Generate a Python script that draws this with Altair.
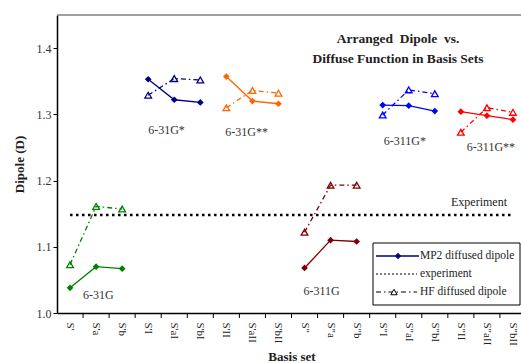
import altair as alt
import pandas as pd

# Basis-set categories along the x axis (three diffuse variants per basis set)
categories = ["S'", "S'a", "S'b", "S'I", "S'aI", "S'bI", "S'II", "S'aII", "S'bII",
              'S"', 'S"a', 'S"b', 'S"I', 'S"aI', 'S"bI', 'S"II', 'S"aII', 'S"bII']
groups = ["6-31G", "6-31G*", "6-31G**", "6-311G", "6-311G*", "6-311G**"]
group_colors = ["#008000", "#000080", "#FF6600", "#800000", "#0000FF", "#FF0000"]

mp2_dipole = [1.038, 1.070, 1.067, 1.353, 1.322, 1.318, 1.357, 1.320, 1.316,
              1.068, 1.110, 1.108, 1.314, 1.313, 1.305, 1.304, 1.298, 1.292]
hf_dipole = [1.073, 1.161, 1.157, 1.329, 1.354, 1.352, 1.310, 1.336, 1.332,
             1.122, 1.193, 1.193, 1.299, 1.337, 1.331, 1.273, 1.310, 1.303]
experiment_dipole = 1.148

# where each basis-set name is written (anchor category, dipole value)
label_anchor = ["S'", "S'I", "S'II", 'S"', 'S"I', 'S"II']
label_value = [1.027, 1.276, 1.273, 1.033, 1.260, 1.251]
label_shift = [13, 0, -1, -1, 1, 6]

title_lines = ["Arranged\u00a0\u00a0Dipole\u00a0\u00a0vs.", "Diffuse Function in Basis Sets"]
y_ticks = [1.0, 1.1, 1.2, 1.3, 1.4]

W, H = 464, 298
BAND_RANGE = 469
SERIF = "Liberation Serif, Times New Roman, serif"

rows = []
for i, cat in enumerate(categories):
    g = groups[i // 3]
    rows.append({"cat": cat, "group": g, "method": "MP2", "value": mp2_dipole[i]})
    rows.append({"cat": cat, "group": g, "method": "HF", "value": hf_dipole[i]})
df = pd.DataFrame(rows)
mp2 = df[df.method == "MP2"]
hf = df[df.method == "HF"]

x_scale = alt.Scale(type="band", domain=categories, range=[0, BAND_RANGE],
                    paddingInner=0, paddingOuter=0)
y_scale = alt.Scale(domain=[1.0, 1.45], nice=False, zero=False)
color = alt.Color("group:N", scale=alt.Scale(domain=groups, range=group_colors), legend=None)

x_axis = alt.Axis(title="Basis set", ticks=False, labelAngle=90, labelFont=SERIF,
                  labelFontSize=11, labelColor="#222", labelPadding=9,
                  domainColor="black", domainWidth=1.5, titleFont=SERIF,
                  titleFontSize=13, titleFontWeight="bold", titlePadding=5,
                  titleColor="#222", grid=False)
y_axis = alt.Axis(title="Dipole (D)", values=y_ticks, format=".1f", grid=False,
                  tickSize=4, tickColor="black", labelFont=SERIF, labelFontSize=12,
                  labelColor="#333", domainColor="black", domainWidth=1.5,
                  titleFont=SERIF, titleFontSize=13, titleFontWeight="bold",
                  titlePadding=10, titleColor="#222")

X = alt.X("cat:N", scale=x_scale, sort=categories, axis=x_axis)
Y = alt.Y("value:Q", scale=y_scale, axis=y_axis)

mp2_line = alt.Chart(mp2).mark_line(strokeWidth=1.3).encode(
    x=X, y=Y, color=color, detail="group:N")
mp2_pts = alt.Chart(mp2).mark_point(shape="diamond", filled=True, size=45, opacity=1).encode(
    x=X, y=Y, color=color)
hf_line = alt.Chart(hf).mark_line(strokeWidth=1.3, strokeDash=[5, 3, 1.5, 3]).encode(
    x=X, y=Y, color=color, detail="group:N")
hf_pts = alt.Chart(hf).mark_point(shape="triangle-up", filled=False, size=45,
                                  strokeWidth=1.3, opacity=1).encode(x=X, y=Y, color=color)

exp_df = pd.DataFrame({"cat": [categories[0], categories[-1]],
                       "value": [experiment_dipole, experiment_dipole]})
exp_line = alt.Chart(exp_df).mark_line(color="black", strokeWidth=2.6,
                                       strokeDash=[2.5, 3.5]).encode(x=X, y=Y)
exp_text = alt.Chart(exp_df.tail(1)).mark_text(
    text="Experiment", align="right", dx=-6, dy=-13, font=SERIF, fontSize=12,
    color="#222").encode(x=X, y=Y)

lab_df = pd.DataFrame({"cat": label_anchor, "value": label_value, "group": groups})
group_labels = alt.layer(*[
    alt.Chart(lab_df.iloc[[k]]).mark_text(
        align="left", dx=label_shift[k], font=SERIF, fontSize=12, color="#333").encode(
        x=X, y=Y, text="group:N")
    for k in range(len(groups))
])

# x-axis ticks sit on the band boundaries
tick_df = pd.DataFrame({"cat": categories[1:]})
x_ticks = alt.Chart(tick_df).mark_rule(color="black", strokeWidth=1).encode(
    x=alt.X("cat:N", scale=x_scale, sort=categories, axis=x_axis, bandPosition=0),
    y=alt.value(H), y2=alt.value(H + 5))

one = tick_df.head(1)
top_frame = alt.Chart(one).mark_rule(color="#808080", strokeWidth=1.6).encode(
    x=alt.value(0), x2=alt.value(BAND_RANGE), y=alt.value(0))

title = alt.layer(*[
    alt.Chart(one).mark_text(text=t, font=SERIF, fontSize=13.5,
                             fontWeight="bold", color="#222").encode(
        x=alt.value(341), y=alt.value(24 + 20 * k))
    for k, t in enumerate(title_lines)
])

# legend box
lx, ly = 316, 228
legend = alt.layer(
    alt.Chart(one).mark_rect(fill="white", stroke="black", strokeWidth=1).encode(
        x=alt.value(lx), x2=alt.value(lx + 147), y=alt.value(ly), y2=alt.value(ly + 62)),
    alt.Chart(one).mark_rule(color="#000080", strokeWidth=1.3).encode(
        x=alt.value(lx + 3), x2=alt.value(lx + 46), y=alt.value(ly + 13)),
    alt.Chart(one).mark_point(shape="diamond", filled=True, size=40, opacity=1,
                              color="#000080").encode(
        x=alt.value(lx + 25), y=alt.value(ly + 13)),
    alt.Chart(one).mark_rule(color="black", strokeWidth=1, strokeDash=[2, 2]).encode(
        x=alt.value(lx + 3), x2=alt.value(lx + 44), y=alt.value(ly + 31)),
    alt.Chart(one).mark_rule(color="black", strokeWidth=1, strokeDash=[5, 3, 1.5, 3]).encode(
        x=alt.value(lx + 3), x2=alt.value(lx + 44), y=alt.value(ly + 49)),
    alt.Chart(one).mark_point(shape="triangle-up", filled=False, size=40, opacity=1,
                              color="black", fill="white", strokeWidth=1).encode(
        x=alt.value(lx + 21), y=alt.value(ly + 49)),
    *[alt.Chart(one).mark_text(text=t, align="left", font=SERIF, fontSize=11.5,
                               color="#222").encode(
        x=alt.value(lx + 47), y=alt.value(ly + 13 + 18 * k))
      for k, t in enumerate(["MP2 diffused dipole", "experiment", "HF diffused dipole"])]
)

chart = alt.layer(
    mp2_line, top_frame, x_ticks, exp_line, exp_text, hf_line, hf_pts, mp2_pts,
    group_labels, title, legend
).properties(
    width=W, height=H,
    autosize=alt.AutoSizeParams(type="none"),
    padding={"left": 57, "top": 15, "right": 0, "bottom": 50},
    background="white",
).configure_view(stroke=None)

chart.save("out.html", embed_options={"renderer": "svg", "actions": False})
